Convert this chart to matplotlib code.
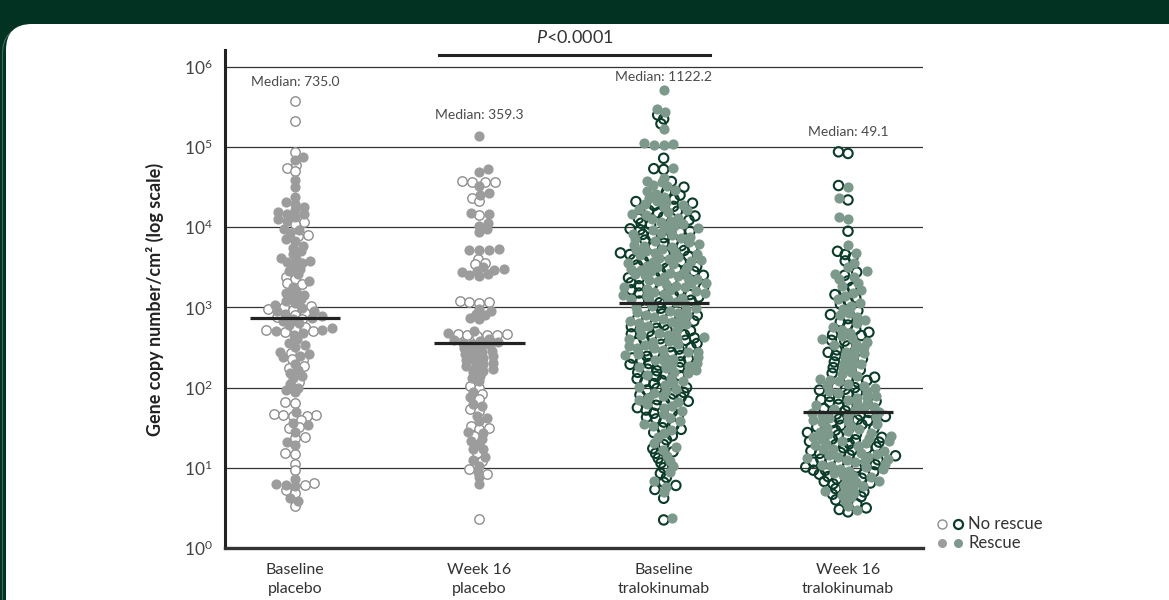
import numpy as np
import matplotlib
matplotlib.use("Agg")
import matplotlib.pyplot as plt
from matplotlib.patches import FancyBboxPatch

plt.rcParams["font.family"] = ["Lato", "DejaVu Sans"]
plt.rcParams["mathtext.fontset"] = "custom"
plt.rcParams["mathtext.rm"] = "Lato"
plt.rcParams["mathtext.it"] = "Lato:italic"
plt.rcParams["mathtext.bf"] = "Lato:bold"

groups = ["Baseline\nplacebo", "Week 16\nplacebo", "Baseline\ntralokinumab", "Week 16\ntralokinumab"]
medians = [735.0, 359.3, 1122.2, 49.1]
median_text = ["Median: 735.0", "Median: 359.3", "Median: 1122.2", "Median: 49.1"]

# gene copy number / cm2, stored as log10 values
bl_pbo_none = [5.58, 5.33, 4.94, 4.77, 4.74, 4.70, 4.07, 4.04, 3.90, 3.89, 3.38, 3.36, 3.31, 3.29,
               3.02, 3.00, 2.98, 2.97, 2.93, 2.91, 2.88, 2.86, 2.75, 2.73, 2.72, 2.70, 2.69, 2.43,
               2.36, 2.34, 2.27, 2.25, 2.07, 1.82, 1.81, 1.67, 1.66, 1.66, 1.65, 1.64, 1.60, 1.51,
               1.50, 1.38, 1.37, 1.18, 1.17, 1.05, 0.97, 0.81, 0.78, 0.72, 0.69, 0.52]
bl_pbo_rescue = [4.88, 4.84, 4.59, 4.50, 4.38, 4.31, 4.29, 4.25, 4.22, 4.19, 4.17, 4.16, 4.13, 4.10,
                 4.08, 3.98, 3.96, 3.93, 3.85, 3.83, 3.76, 3.74, 3.70, 3.66, 3.62, 3.60, 3.58, 3.57,
                 3.55, 3.52, 3.48, 3.45, 3.42, 3.33, 3.26, 3.20, 3.18, 3.16, 3.13, 3.10, 3.08, 3.05,
                 3.03, 2.99, 2.96, 2.95, 2.92, 2.89, 2.87, 2.85, 2.83, 2.80, 2.78, 2.74, 2.72, 2.71,
                 2.68, 2.66, 2.60, 2.56, 2.53, 2.51, 2.44, 2.42, 2.40, 2.38, 2.30, 2.22, 2.18, 2.15,
                 2.12, 2.04, 2.00, 1.97, 1.94, 1.70, 1.56, 1.54, 1.45, 1.32, 1.28, 0.86, 0.80, 0.79,
                 0.77, 0.62, 0.58]

w16_pbo_none = [4.57, 4.56, 4.58, 4.57, 4.37, 4.33, 4.15, 3.60, 3.56, 3.54, 3.08, 3.07, 3.06, 3.07,
                2.67, 2.66, 2.65, 2.67, 2.64, 2.66, 2.02, 2.00, 1.92, 1.86, 1.73, 1.71, 1.52, 1.50,
                1.49, 1.40, 1.18, 1.08, 0.98, 0.92, 0.36]
w16_pbo_rescue = [5.14, 4.72, 4.69, 4.52, 4.43, 4.40, 4.18, 4.17, 4.05, 4.02, 3.98, 3.94, 3.73, 3.72,
                  3.71, 3.72, 3.50, 3.48, 3.47, 3.45, 3.44, 3.42, 3.40, 3.39, 2.98, 2.95, 2.92, 2.90,
                  2.87, 2.85, 2.70, 2.68, 2.60, 2.59, 2.58, 2.57, 2.56, 2.54, 2.53, 2.51, 2.49, 2.47,
                  2.46, 2.44, 2.42, 2.40, 2.39, 2.37, 2.35, 2.33, 2.31, 2.29, 2.27, 2.25, 2.23, 2.21,
                  2.19, 2.15, 2.12, 2.08, 1.95, 1.88, 1.80, 1.77, 1.64, 1.62, 1.58, 1.45, 1.43, 1.36,
                  1.33, 1.30, 1.24, 1.23, 1.14, 1.10, 1.02, 0.95, 0.88, 0.80]

bl_tra_none = [5.40, 5.35, 5.29, 4.86, 4.73, 4.72,
               4.57, 4.50, 4.44, 4.35, 4.32, 4.30, 4.48, 4.40,
               4.27, 4.21, 4.18, 4.13, 4.09, 4.05, 4.26, 4.14, 4.03, 4.11, 4.20,
               3.98, 3.95, 3.91, 3.87, 3.82, 3.80, 3.76, 3.74, 3.71, 3.94, 3.84, 3.89, 3.77, 3.97,
               3.68, 3.66, 3.64, 3.60, 3.56, 3.53, 3.49, 3.45, 3.40, 3.63, 3.57, 3.51, 3.44, 3.58,
               3.67, 3.48,
               3.39, 3.36, 3.32, 3.28, 3.24, 3.20, 3.16, 3.13, 3.09, 3.06, 3.37, 3.31, 3.22, 3.18,
               3.12, 3.27, 3.34, 3.08, 3.25, 3.15,
               3.03, 3.00, 2.98, 2.95, 2.92, 2.89, 2.87, 2.84, 2.81, 2.78, 2.76, 2.72, 2.71, 2.99,
               2.90, 2.83, 2.74,
               2.70, 2.67, 2.64, 2.61, 2.59, 2.56, 2.54, 2.51, 2.48, 2.46, 2.43, 2.40, 2.66, 2.62,
               2.55, 2.50, 2.44, 2.60,
               2.39, 2.37, 2.34, 2.30, 2.28, 2.25, 2.21, 2.17, 2.14, 2.11, 2.32, 2.23, 2.15, 2.36,
               2.19, 2.29,
               2.09, 2.05, 2.00, 1.97, 1.94, 1.91, 1.88, 1.86, 1.83, 1.81, 1.99, 1.92, 1.85, 2.07,
               1.78, 1.75, 1.72, 1.68, 1.65, 1.61, 1.57, 1.53, 1.50, 1.70, 1.63,
               1.48, 1.44, 1.40, 1.35, 1.29, 1.24, 1.20,
               1.18, 1.12, 1.06, 1.00, 0.93,
               0.88, 0.82, 0.78, 0.73, 0.62, 0.35]
bl_tra_rescue = [5.71, 5.47, 5.44, 5.23, 5.04, 5.03, 5.02, 5.05, 4.74, 4.62, 4.58,
                 4.56, 4.53, 4.51, 4.47, 4.45, 4.42, 4.38, 4.37, 4.33, 4.31,
                 4.29, 4.28, 4.25, 4.23, 4.22, 4.19, 4.16, 4.15, 4.12, 4.10, 4.08, 4.07, 4.04,
                 4.02, 4.01,
                 3.99, 3.97, 3.96, 3.93, 3.92, 3.90, 3.88, 3.86, 3.85, 3.83, 3.81, 3.79, 3.78,
                 3.77, 3.75, 3.73, 3.72, 3.70,
                 3.69, 3.68, 3.67, 3.65, 3.63, 3.62, 3.61, 3.59, 3.58, 3.57, 3.55, 3.54, 3.52,
                 3.51, 3.50, 3.48, 3.47, 3.46, 3.44, 3.43, 3.42, 3.41,
                 3.39, 3.38, 3.37, 3.35, 3.34, 3.33, 3.31, 3.30, 3.29, 3.27, 3.26, 3.25, 3.23,
                 3.22, 3.21, 3.19, 3.18, 3.17, 3.15, 3.14, 3.12, 3.11, 3.10, 3.08, 3.07,
                 3.04, 3.02, 3.01, 2.99, 2.97, 2.96, 2.94, 2.93, 2.91, 2.90, 2.88, 2.86, 2.85,
                 2.83, 2.82, 2.80, 2.79, 2.77, 2.75, 2.73,
                 2.69, 2.68, 2.66, 2.65, 2.63, 2.62, 2.60, 2.58, 2.57, 2.55, 2.53, 2.52, 2.50,
                 2.49, 2.47, 2.45, 2.44, 2.42, 2.41, 2.40,
                 2.38, 2.36, 2.35, 2.33, 2.31, 2.29, 2.27, 2.26, 2.24, 2.22, 2.20, 2.18, 2.16, 2.12,
                 2.08, 2.06, 2.03, 2.01, 1.98, 1.96, 1.93, 1.90, 1.87, 1.84, 1.82, 1.80,
                 1.77, 1.74, 1.71, 1.67, 1.62, 1.58, 1.55, 1.52,
                 1.47, 1.43, 1.38, 1.31, 1.26, 1.22,
                 1.15, 1.08, 1.02, 0.95, 0.84, 0.76, 0.70, 0.38]

w16_tra_none = [4.94, 4.92, 4.52, 4.34, 3.95, 3.70, 3.66, 3.62, 3.58,
                3.44, 3.40, 3.33, 3.25, 3.21, 3.16, 3.08, 3.04, 3.12, 2.96,
                2.91, 2.86, 2.78, 2.73, 2.82, 2.69, 2.66, 2.58, 2.52, 2.65, 2.59,
                2.47, 2.40, 2.36, 2.32, 2.25, 2.18, 2.44, 2.22,
                2.13, 2.07, 2.00, 1.97, 1.92, 1.86, 2.09, 1.94, 1.89, 2.01, 2.12, 1.98,
                1.85, 1.82, 1.77, 1.74, 1.71, 1.79, 1.83,
                1.69, 1.64, 1.61, 1.56, 1.53, 1.51, 1.67, 1.59, 1.54, 1.60, 1.66,
                1.49, 1.44, 1.41, 1.38, 1.35, 1.32, 1.29, 1.25, 1.22, 1.47, 1.39, 1.33, 1.26,
                1.21, 1.42, 1.36, 1.30, 1.24,
                1.18, 1.15, 1.11, 1.09, 1.06, 1.03, 1.00, 0.97, 1.13, 1.07, 1.01, 1.16, 0.97,
                1.04, 1.10, 1.19,
                0.95, 0.92, 0.89, 0.86, 0.83, 0.80, 0.74, 0.70, 0.67, 0.87, 0.81, 0.93,
                0.64, 0.60, 0.55, 0.50, 0.45, 0.48]
w16_tra_rescue = [4.50, 4.37, 4.13, 4.10, 3.78, 3.68, 3.55, 3.50,
                  3.45, 3.42, 3.38, 3.35, 3.30, 3.27, 3.22, 3.18, 3.14, 3.10, 3.05, 3.02, 2.98,
                  2.93, 2.88, 2.84, 2.80, 2.75, 2.72, 2.90,
                  2.68, 2.64, 2.60, 2.57, 2.53, 2.51, 2.62, 2.55,
                  2.48, 2.45, 2.41, 2.38, 2.34, 2.31, 2.27, 2.24, 2.20, 2.17, 2.43, 2.29,
                  2.14, 2.11, 2.08, 2.05, 2.02, 1.99, 1.96, 1.93, 1.90, 1.87, 2.10, 2.03, 1.95, 1.88,
                  1.84, 1.81, 1.78, 1.75, 1.72, 1.70, 1.80, 1.76, 1.73,
                  1.68, 1.66, 1.63, 1.60, 1.58, 1.55, 1.52, 1.50, 1.65, 1.57, 1.62,
                  1.48, 1.45, 1.42, 1.39, 1.36, 1.33, 1.30, 1.27, 1.24, 1.21, 1.46, 1.40, 1.34,
                  1.28, 1.23, 1.43, 1.37, 1.31,
                  1.19, 1.16, 1.13, 1.10, 1.07, 1.04, 1.01, 0.98, 0.96, 1.17, 1.11, 1.05, 0.99,
                  1.14, 1.08, 1.02, 1.12,
                  0.94, 0.91, 0.88, 0.85, 0.82, 0.79, 0.76, 0.72, 0.69, 0.66, 0.90, 0.84, 0.77, 0.71,
                  0.63, 0.58, 0.52, 0.47]

none_sets = [bl_pbo_none, w16_pbo_none, bl_tra_none, w16_tra_none]
rescue_sets = [bl_pbo_rescue, w16_pbo_rescue, bl_tra_rescue, w16_tra_rescue]
median_label_y = [5.81, 5.40, 5.87, 5.19]

PBO_FILL, PBO_EDGE = "#9c9c9c", "#8e8e8e"
TRA_FILL, TRA_EDGE = "#7c998c", "#0b3b29"
BG = "#023222"


def swarm(ys, dx, dy):
    # beeswarm offsets (pixels) for pixel y positions; ellipse collision dx by dy
    ys = np.asarray(ys, float)
    xs = np.zeros(len(ys))
    done = []
    flip = 1
    for i in np.argsort(ys):
        y = ys[i]
        blocked = []
        for j in done:
            d = abs(ys[j] - y)
            if d < dy:
                half = dx * np.sqrt(1 - (d / dy) ** 2)
                blocked.append((xs[j] - half, xs[j] + half))
        cands = [0.0] + [b for iv in blocked for b in iv]
        cands.sort(key=lambda c: (round(abs(c), 6), flip * c))
        for c in cands:
            if all(not (lo + 1e-9 < c < hi - 1e-9) for lo, hi in blocked):
                xs[i] = c
                break
        flip = -flip
        done.append(i)
    return xs


fig = plt.figure(figsize=(11.69, 6.0), dpi=100, facecolor=BG)

# rounded white panel behind the chart
bg = fig.add_axes([0, 0, 1, 1], zorder=0)
bg.set_xlim(0, 1169)
bg.set_ylim(600, 0)
bg.axis("off")
bg.add_patch(FancyBboxPatch((2.5, 27), 1220, 620, boxstyle="round,pad=0,rounding_size=27",
                            fc="none", ec="#3e6e5a", lw=0.8))
bg.add_patch(FancyBboxPatch((6, 24), 1220, 620, boxstyle="round,pad=0,rounding_size=26",
                            fc="white", ec="none"))

ax = fig.add_axes([225 / 1169, 52 / 600, 698 / 1169, 498 / 600], zorder=1)
ax.patch.set_alpha(0)
ax.set_yscale("log")
ymax = 10 ** 6.21
ax.set_ylim(1, ymax)
ax.set_xlim(-0.38, 3.407)

px_per_dec = 498 / np.log10(ymax)
px_per_x = 698 / (3.407 + 0.38)

for i in range(4):
    is_pbo = i < 2
    fill = PBO_FILL if is_pbo else TRA_FILL
    edge = PBO_EDGE if is_pbo else TRA_EDGE
    vals = np.array(none_sets[i] + rescue_sets[i])
    kind = np.array([0] * len(none_sets[i]) + [1] * len(rescue_sets[i]))
    off = swarm(vals * px_per_dec, dx=10.0, dy=5.0) / px_per_x
    xs = i + off
    m0 = kind == 0
    ax.scatter(xs[m0], 10 ** vals[m0], s=46, facecolors="white" if is_pbo else "none",
               edgecolors=edge, linewidths=1.0 if is_pbo else 1.5, zorder=3)
    ax.scatter(xs[~m0], 10 ** vals[~m0], s=54, color=fill, linewidths=0, zorder=4)
    ax.hlines(medians[i], i - 0.245, i + 0.245, color="#222222", lw=2.3, zorder=6)
    ax.text(i, 10 ** median_label_y[i], median_text[i], ha="center", va="center",
            fontsize=10, color="#4a4a4a")

ax.set_yticks([10 ** k for k in range(7)])
ax.yaxis.set_minor_locator(plt.NullLocator())
ax.grid(axis="y", which="major", color="#333333", lw=0.9, zorder=1)
ax.set_axisbelow(True)
ax.tick_params(axis="y", length=0, labelsize=12.5, labelcolor="#444444", pad=9)
ax.set_xticks(range(4))
ax.set_xticklabels(groups, fontsize=11.5, color="#333333", linespacing=1.4)
ax.tick_params(axis="x", length=0, pad=11)

for s in ["top", "right"]:
    ax.spines[s].set_visible(False)
ax.spines["left"].set_linewidth(2.2)
ax.spines["left"].set_color("#222222")
ax.spines["bottom"].set_linewidth(2.4)
ax.spines["bottom"].set_color("#333333")

ax.set_ylabel("Gene copy number/cm² (log scale)", fontsize=13, fontweight="bold", color="#222222")
ax.yaxis.set_label_coords(-0.088, 0.5)

# significance bracket
ax.plot([0.78, 2.25], [10 ** 6.15, 10 ** 6.15], color="#222222", lw=2.2, clip_on=False, zorder=6)
ax.text(1.52, 10 ** 6.36, r"$\it{P}$<0.0001", ha="center", va="center", fontsize=13,
        color="#333333", clip_on=False)

# legend drawn by hand
lx, ly = 942 / 1169, 1 - 524 / 600
ly2 = 1 - 543 / 600
fig.lines.append(plt.Line2D([lx], [ly], transform=fig.transFigure, marker="o", ms=6.5,
                            mfc="white", mec=PBO_EDGE, mew=1.0, ls=""))
fig.lines.append(plt.Line2D([lx + 16 / 1169], [ly], transform=fig.transFigure, marker="o", ms=6.5,
                            mfc="white", mec=TRA_EDGE, mew=1.6, ls=""))
fig.lines.append(plt.Line2D([lx], [ly2], transform=fig.transFigure, marker="o", ms=6.5,
                            mfc=PBO_FILL, mec="none", ls=""))
fig.lines.append(plt.Line2D([lx + 16 / 1169], [ly2], transform=fig.transFigure, marker="o", ms=6.5,
                            mfc=TRA_FILL, mec="none", ls=""))
fig.text(968 / 1169, ly, "No rescue", fontsize=12, color="#333333", va="center")
fig.text(968 / 1169, ly2, "Rescue", fontsize=12, color="#333333", va="center")

fig.savefig("out.png", dpi=100, facecolor=BG)
